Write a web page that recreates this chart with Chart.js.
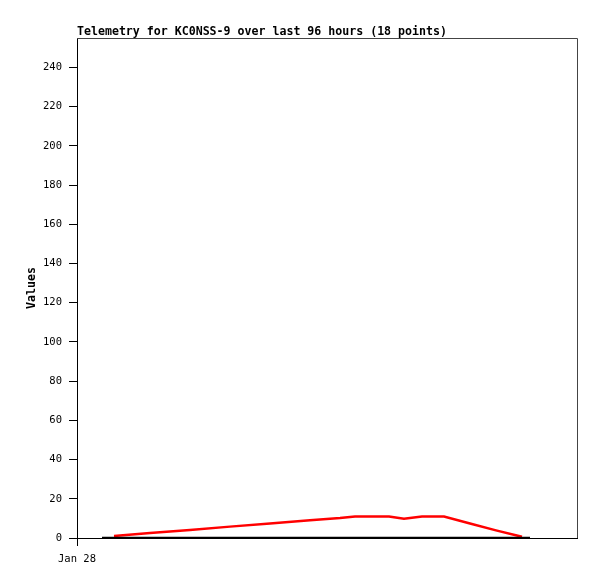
<!DOCTYPE html>
<html>
<head>
<meta charset="utf-8">
<script src="https://cdn.jsdelivr.net/npm/chart.js@4"></script>
<style>
  body { margin: 0; background: #fff; }
  #wrap { width: 597px; height: 579px; }
</style>
</head>
<body>
<div id="wrap"><canvas id="grafico" width="597" height="579"></canvas></div>
<script>
// horas desde Jan 28 00:00
const horas = [7.4, 14.6, 22.6, 30.6, 38.6, 46.6, 52.6, 55.6, 59.0, 62.4, 65.4, 69.0, 73.4, 78.6, 83.8, 89.0];
const valores = [1.0, 2.5, 4.1, 5.8, 7.4, 9.1, 10.2, 11.0, 11.0, 11.0, 9.8, 11.0, 11.0, 7.4, 3.9, 0.6];
const faixaHoras = [5.0, 90.6];
const faixaValores = [0, 0];
const rotuloX = "Jan 28";
const titulo = "Telemetry for KC0NSS-9 over last 96 hours (18 points)";

const fonteMono = "'DejaVu Sans Mono', 'Liberation Mono', monospace";

const bordaTitulo = {
  id: "bordaTitulo",
  afterDraw(chart) {
    const { ctx, chartArea: a } = chart;
    ctx.save();
    ctx.strokeStyle = "#444";
    ctx.lineWidth = 1;
    ctx.beginPath();
    ctx.moveTo(a.left, a.top + 0.5);
    ctx.lineTo(a.right + 0.5, a.top + 0.5);
    ctx.lineTo(a.right + 0.5, a.bottom);
    ctx.stroke();
    ctx.fillStyle = "#000";
    ctx.font = "bold 11.6px " + fonteMono;
    ctx.textBaseline = "alphabetic";
    ctx.fillText(titulo, a.left, 35);
    ctx.restore();
  }
};

new Chart(document.getElementById("grafico").getContext("2d"), {
  type: "line",
  data: {
    datasets: [
      {
        label: "faixa",
        data: faixaHoras.map((h, i) => ({ x: h, y: faixaValores[i] })),
        borderColor: "#000",
        borderWidth: 2.5,
        pointRadius: 0,
        tension: 0
      },
      {
        label: "Values",
        data: horas.map((h, i) => ({ x: h, y: valores[i] })),
        borderColor: "#ff0000",
        borderWidth: 2.5,
        pointRadius: 0,
        tension: 0
      }
    ]
  },
  options: {
    responsive: false,
    animation: false,
    layout: { padding: { top: 38, right: 20, left: 0, bottom: 0 } },
    plugins: {
      legend: { display: false },
      tooltip: { enabled: false }
    },
    scales: {
      x: {
        type: "linear",
        min: 0,
        max: 100,
        afterFit: s => { s.height = 41; },
        afterBuildTicks: s => { s.ticks = [{ value: 0 }]; },
        ticks: {
          callback: () => rotuloX,
          color: "#000",
          font: { family: fonteMono, size: 10.5 },
          maxRotation: 0,
          padding: 7
        },
        grid: { drawOnChartArea: false, color: "#000", tickLength: 8 },
        border: { color: "#000", width: 1 }
      },
      y: {
        min: 0,
        max: 255,
        afterFit: s => { s.width = 77; },
        afterBuildTicks: s => {
          s.ticks = [0, 20, 40, 60, 80, 100, 120, 140, 160, 180, 200, 220, 240].map(v => ({ value: v }));
        },
        ticks: {
          color: "#000",
          font: { family: fonteMono, size: 10.5 },
          padding: 7
        },
        title: {
          display: true,
          text: "Values",
          color: "#000",
          font: { family: fonteMono, size: 11.6, weight: "bold" },
          padding: { top: 25, bottom: 0 }
        },
        grid: { drawOnChartArea: false, color: "#000", tickLength: 8 },
        border: { color: "#000", width: 1 }
      }
    }
  },
  plugins: [bordaTitulo]
});
</script>
</body>
</html>
